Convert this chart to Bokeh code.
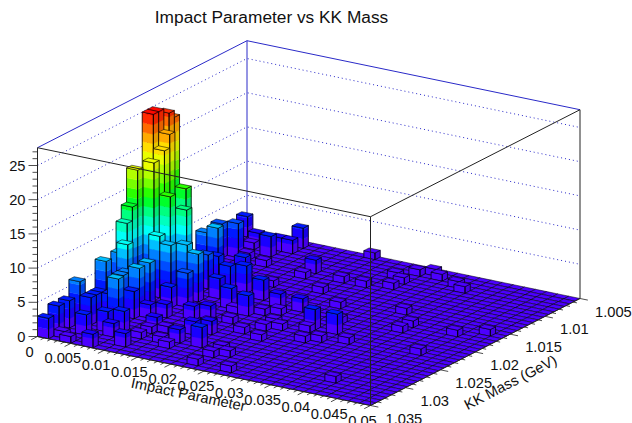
import colorsys
from bokeh.plotting import figure
from bokeh.models import Range1d
from bokeh.core.properties import value
from bokeh.embed import file_html
from bokeh.resources import INLINE

TITLE = "Impact Parameter vs KK Mass"
X_TITLE = "Impact Parameter"
Y_TITLE = "KK Mass (GeV)"
NX = 30
NY = 40
XMIN, XMAX = 0.0, 0.05
YMIN, YMAX = 1.005, 1.035
ZMAX = 27.6
X_TICKS = [0, 0.005, 0.01, 0.015, 0.02, 0.025, 0.03, 0.035, 0.04, 0.045, 0.05]
X_LABELS = ["0", "0.005", "0.01", "0.015", "0.02", "0.025", "0.03", "0.035", "0.04", "0.045", "0.05"]
Y_TICKS = [1.005, 1.01, 1.015, 1.02, 1.025, 1.03, 1.035]
Y_LABELS = ["1.005", "1.01", "1.015", "1.02", "1.025", "1.03", "1.035"]
Z_TICKS = [0, 5, 10, 15, 20, 25]
HUES = [258, 246, 234, 222, 210, 195, 178, 165, 150, 130, 110, 92, 78, 65, 52, 40, 25, 10, 2, 0]

# occupied bins: x bin, y bin counted from the 1.035 side, height
BAR_I = [0,0,0,0,0,0,0,0,0,0,0,0,0,1,1,1,1,2,2,2,3,4,2,3,3,3,2,3,5,5,2,3,4,2,4,
         2,1,1,3,4,6,1,2,3,2,4,5,6,9,11,9,6,6,7,8,1,2,4,6,7,8,4,5,2,4,
         4,5,9,15,14,12,16,9,9,11,13,10,16,17,18,17,24,16,20,22,26,11,18,20,21,26,28,20,22,
         12,13,14,16,14,18,14,12,8,12,15,16,16,17,
         0,1,2,4,5,
         6,8,7,9,10,9,13,13,13,10,9,11,13,3,2,5,3,5]
BAR_J = [0,2,4,6,11,14,15,16,17,20,23,24,21,18,20,21,13,19,22,17,17,18,19,20,13,11,10,7,16,18,26,26,15,0,0,
         3,7,6,5,6,2,8,8,10,11,11,12,7,6,6,9,8,20,13,14,1,0,4,22,23,18,24,27,36,36,
         22,27,32,35,31,31,37,30,22,21,21,17,17,20,17,13,4,1,15,21,16,39,37,36,35,23,25,26,23,
         12,14,15,16,11,14,5,19,26,27,24,32,34,38,
         38,31,32,34,38,
         5,5,8,12,14,4,1,4,6,10,17,18,16,36,35,36,32,31]
BAR_Z = [3,4,4,6,7,7,11,13,18,25,24,23,25,19,20,22,9,14,14,9,8,8,14,12,7,7,6,7,5,7,6,7,3,5,2,
         3,4,4,3,3,2,4,4,4,6,2,2,1,2,3,2,2,3,2,2,1,1,2,4,4,3,4,3,2,2,
         5,3,2,1,1,1,1,1,3,2,2,3,3,1,3,1,1,1,1,1,1,1,1,1,1,1,1,1,1,
         1,1,1,1,1,1,1,1,1,1,1,1,1,1,
         3,5,5,3,3,
         1,1,1,1,1,1,1,1,1,2,1,1,1,1,1,2,1,1]

Z = [[0] * NX for _ in range(NY)]
for a, b, c in zip(BAR_I, BAR_J, BAR_Z):
    Z[b][a] = c

# projection of the lego box on the page
O = (37.0, 336.0)
UX = (333.0, 69.0)
VY = (209.5, -107.0)
ZS = 6.84


def proj(u, v, z=0.0):
    return (O[0] + UX[0] * u + VY[0] * v, O[1] + UX[1] * u + VY[1] * v - ZS * z)


def shade(hue, f):
    r, g, b = colorsys.hsv_to_rgb(hue / 360.0, 1.0, f)
    return "#%02x%02x%02x" % (round(r * 255), round(g * 255), round(b * 255))


W, H = 632, 423
p = figure(width=W, height=H, output_backend="svg", toolbar_location=None,
           x_range=Range1d(0, W), y_range=Range1d(H, 0),
           x_axis_location=None, y_axis_location=None, min_border=0,
           outline_line_color=None, background_fill_color="white", border_fill_color="white")
p.xgrid.visible = False
p.ygrid.visible = False

# back walls
WALL = "#2a2ac8"
for z in Z_TICKS[1:] + [ZMAX]:
    pts = [proj(0, 0, z), proj(0, 1, z), proj(1, 1, z)]
    xs = [q[0] for q in pts]
    ys = [q[1] for q in pts]
    if z == ZMAX:
        p.line(xs, ys, line_color=WALL, line_width=1)
    else:
        p.line(xs, ys, line_color=WALL, line_width=1, line_dash="1 3")
a, b = proj(0, 1, 0), proj(0, 1, ZMAX)
p.line([a[0], b[0]], [a[1], b[1]], line_color=WALL, line_width=1)

# bars, back to front
xs, ys, fc, fa, lc, lw, la = [], [], [], [], [], [], []
DZ = ZMAX / 20.0


def add(poly, fill, falpha, line, lwid, lalpha):
    xs.append([q[0] for q in poly])
    ys.append([q[1] for q in poly])
    fc.append(fill)
    fa.append(falpha)
    lc.append(line)
    lw.append(lwid)
    la.append(lalpha)


for j in range(NY - 1, -1, -1):
    v0, v1 = j / NY, (j + 1) / NY
    for i in range(NX):
        u0, u1 = i / NX, (i + 1) / NX
        z = Z[j][i]
        if z > 0:
            k = 0
            while k * DZ < z:
                z0, z1 = k * DZ, min((k + 1) * DZ, z)
                c1 = shade(HUES[k], 1.0)
                c2 = shade(HUES[k], 0.9)
                add([proj(u0, v0, z0), proj(u1, v0, z0), proj(u1, v0, z1), proj(u0, v0, z1)], c1, 1, c1, 0.4, 1)
                add([proj(u1, v0, z0), proj(u1, v1, z0), proj(u1, v1, z1), proj(u1, v0, z1)], c2, 1, c2, 0.4, 1)
                k += 1
            add([proj(u0, v0, 0), proj(u1, v0, 0), proj(u1, v0, z), proj(u0, v0, z)], "#000000", 0, "#000000", 0.9, 0.85)
            add([proj(u1, v0, 0), proj(u1, v1, 0), proj(u1, v1, z), proj(u1, v0, z)], "#000000", 0, "#000000", 0.9, 0.85)
        lev = min(int(max(z - 0.01, 0) / DZ), 19)
        add([proj(u0, v0, z), proj(u1, v0, z), proj(u1, v1, z), proj(u0, v1, z)], shade(HUES[lev], 1.0), 1, "#000000", 0.7, 0.75)

p.patches(xs, ys, fill_color=fc, fill_alpha=fa, line_color=lc, line_width=lw, line_alpha=la)

# front frame
FR = "#222222"
for q1, q2 in [(proj(0, 0, ZMAX), proj(1, 0, ZMAX)), (proj(1, 0, ZMAX), proj(1, 1, ZMAX)),
               (proj(0, 0, 0), proj(0, 0, ZMAX)), (proj(1, 0, 0), proj(1, 0, ZMAX)),
               (proj(1, 1, 0), proj(1, 1, ZMAX)), (proj(0, 0, 0), proj(1, 0, 0)), (proj(1, 0, 0), proj(1, 1, 0))]:
    p.line([q1[0], q2[0]], [q1[1], q2[1]], line_color=FR, line_width=1)

# ticks
TX, TY = [], []
for n in range(0, 51):
    q = proj(n / 50, 0)
    L = 7 if n % 5 == 0 else 4
    TX.append([q[0], q[0] - 0.89 * L])
    TY.append([q[1], q[1] + 0.45 * L])
for n in range(0, 31):
    q = proj(1, n / 30)
    L = 8 if n % 5 == 0 else 4
    TX.append([q[0], q[0] + 0.98 * L])
    TY.append([q[1], q[1] + 0.2 * L])
for n in range(0, 28):
    q = proj(0, 0, n)
    L = 9 if n % 5 == 0 else 5
    TX.append([q[0], q[0] - L])
    TY.append([q[1], q[1]])
p.multi_line(TX, TY, line_color="#222222", line_width=0.8)

FONT = value("Liberation Sans")
TC = "#111111"
lx = [proj(t / XMAX, 0) for t in X_TICKS]
p.text([q[0] - 8 for q in lx], [q[1] + 15 for q in lx], text=X_LABELS, text_font=FONT, text_font_size="14.7px",
       text_align="center", text_baseline="middle", text_color=TC)
ly = [proj(1, (YMAX - t) / (YMAX - YMIN)) for t in Y_TICKS]
p.text([q[0] + 15 for q in ly], [q[1] + 13 for q in ly], text=Y_LABELS, text_font=FONT, text_font_size="14.7px",
       text_align="left", text_baseline="middle", text_color=TC)
lz = [proj(0, 0, t) for t in Z_TICKS]
p.text([q[0] - 12 for q in lz], [q[1] for q in lz], text=[str(t) for t in Z_TICKS], text_font=FONT,
       text_font_size="14.7px", text_align="right", text_baseline="middle", text_color=TC)

p.text([271], [16], text=[TITLE], text_font=FONT, text_font_size="17.3px", text_align="center",
       text_baseline="middle", text_color=TC)
p.text([188], [394], text=[X_TITLE], angle=[-0.205], text_font=FONT, text_font_size="14.7px", text_align="center",
       text_baseline="middle", text_color=TC)
p.text([510], [382], text=[Y_TITLE], angle=[0.475], text_font=FONT, text_font_size="14.7px", text_align="center",
       text_baseline="middle", text_color=TC)

open("out.html", "w").write(file_html(p, INLINE))
